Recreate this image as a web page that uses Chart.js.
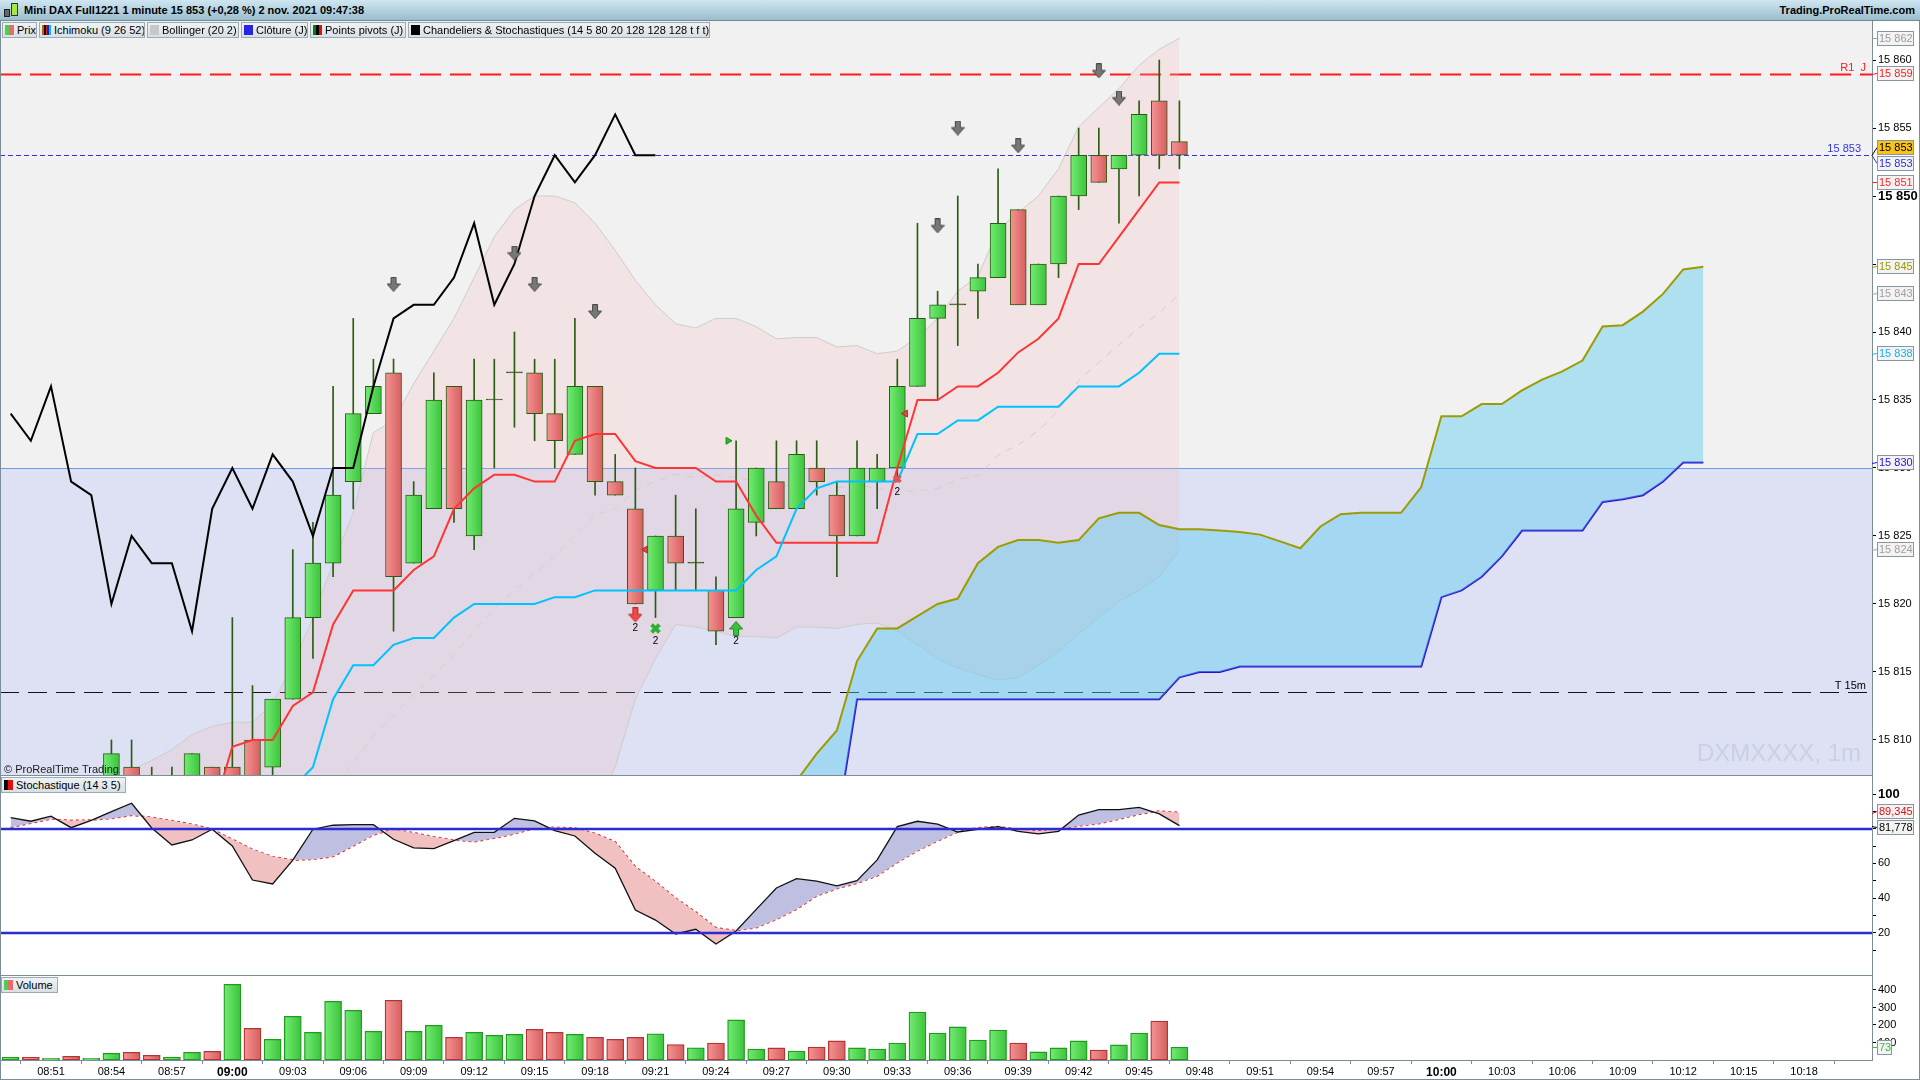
<!DOCTYPE html>
<html>
<head>
<meta charset="utf-8">
<title>Mini DAX Full1221 1 minute</title>
<script src="https://cdn.jsdelivr.net/npm/chart.js@4.4.1/dist/chart.umd.min.js"></script>
<style>
  html, body { margin: 0; padding: 0; background: #fff; }
  body { width: 1920px; height: 1080px; position: relative; overflow: hidden;
         font-family: "Liberation Sans", Arial, sans-serif; color: #000; }
  #title { position: absolute; left: 0; top: 0; width: 1920px; height: 20px;
           border-bottom: 1px solid #6f8997; background: linear-gradient(#cfe6f1, #9bbdcd); }
  #title .name { position: absolute; left: 24px; top: 4px; font-size: 11px; font-weight: bold; }
  #title .site { position: absolute; right: 5px; top: 4px; font-size: 11px; font-weight: bold; }
  #title .i1 { position: absolute; left: 4px; top: 9px; width: 4px; height: 6px; background: #666; border: 1px solid #222; }
  #title .i2 { position: absolute; left: 11px; top: 3px; width: 5px; height: 11px; background: #a6e83c; border: 1px solid #333; }
  canvas { position: absolute; left: 0; }
  .tag { position: absolute; height: 16px; box-sizing: border-box; border: 1px solid #9aabb6;
         background: linear-gradient(#eef2f4, #d8e0e5); font-size: 11px; line-height: 14px;
         padding: 0 2px 0 2px; white-space: nowrap; overflow: hidden; }
  .sw { display: inline-block; width: 9px; height: 10px; vertical-align: -1px; margin-right: 3px; }
  #frame { position: absolute; left: 0; top: 21px; width: 1920px; height: 1059px; box-sizing: border-box;
           border-left: 1px solid #7b8d99; border-right: 1px solid #7b8d99; border-bottom: 1px solid #7b8d99;
           pointer-events: none; }
</style>
</head>
<body>
<div id="title">
  <span class="i1"></span><span class="i2"></span>
  <span class="name">Mini DAX Full1221 1 minute 15 853 (+0,28 %) 2 nov. 2021 09:47:38</span>
  <span class="site">Trading.ProRealTime.com</span>
</div>

<canvas id="cMain" width="1920" height="755" style="top:21px"></canvas>
<canvas id="cStoch" width="1920" height="200" style="top:776px"></canvas>
<canvas id="cVol" width="1920" height="104" style="top:976px"></canvas>

<div class="tag" style="left:2px;top:22px;width:35px"><span class="sw" style="background:linear-gradient(90deg,#4cd04c 50%,#e86a6a 50%)"></span>Prix</div>
<div class="tag" style="left:39px;top:22px;width:106px"><span class="sw" style="background:linear-gradient(90deg,#b36b00 0 20%,#000 20% 40%,#e02020 40% 60%,#1a1ad0 60% 80%,#00c0ff 80%)"></span>Ichimoku (9 26 52)</div>
<div class="tag" style="left:147px;top:22px;width:92px"><span class="sw" style="background:#c8c8c8"></span>Bollinger (20 2)</div>
<div class="tag" style="left:241px;top:22px;width:67px"><span class="sw" style="background:#2626e0"></span>Clôture (J)</div>
<div class="tag" style="left:310px;top:22px;width:96px"><span class="sw" style="background:linear-gradient(90deg,#0a7a0a 0 33%,#000 33% 66%,#e01010 66%)"></span>Points pivots (J)</div>
<div class="tag" style="left:408px;top:22px;width:302px"><span class="sw" style="background:#000"></span>Chandeliers &amp; Stochastiques (14 5 80 20 128 128 128 t f t)</div>
<div class="tag" style="left:1px;top:777px;width:125px"><span class="sw" style="background:linear-gradient(90deg,#000 50%,#e01010 50%)"></span>Stochastique (14 3 5)</div>
<div class="tag" style="left:1px;top:977px;width:57px"><span class="sw" style="background:linear-gradient(90deg,#4cd04c 50%,#e86a6a 50%)"></span>Volume</div>
<div id="frame"></div>

<script>
// ---- values ----
const times = ['08:49','08:50','08:51','08:52','08:53','08:54','08:55','08:56','08:57','08:58','08:59',
  '09:00','09:01','09:02','09:03','09:04','09:05','09:06','09:07','09:08','09:09',
  '09:10','09:11','09:12','09:13','09:14','09:15','09:16','09:17','09:18','09:19',
  '09:20','09:21','09:22','09:23','09:24','09:25','09:26','09:27','09:28','09:29',
  '09:30','09:31','09:32','09:33','09:34','09:35','09:36','09:37','09:38','09:39',
  '09:40','09:41','09:42','09:43','09:44','09:45','09:46','09:47'];

const openP = [15803,15804,15803,15804,15802,15804,15808,15806,15805,15805,15808,
  15808,15810,15808,15813,15819,15823,15829,15834,15837,15823,
  15827,15836,15825,15835,15837,15837,15834,15831,15836,15829,
  15827,15821,15825,15823,15821,15819,15826,15829,15827,15830,
  15828,15825,15829,15830,15836,15841,15842,15843,15844,15849,
  15842,15845,15850,15853,15852,15853,15857,15854];
const highP = [15805,15805,15805,15805,15804,15810,15810,15808,15808,15809,15808,
  15819,15814,15813,15824,15826,15836,15841,15838,15838,15829,
  15837,15836,15838,15838,15840,15838,15838,15841,15836,15831,
  15830,15825,15828,15827,15822,15832,15830,15832,15832,15832,
  15829,15832,15831,15838,15848,15843,15850,15845,15852,15849,
  15845,15850,15855,15855,15853,15857,15860,15857];
const lowP = [15801,15802,15802,15801,15801,15803,15804,15803,15804,15804,15805,
  15803,15804,15806,15813,15816,15822,15827,15834,15818,15823,
  15827,15826,15824,15830,15833,15832,15830,15831,15828,15828,
  15820,15819,15821,15821,15817,15819,15825,15827,15827,15828,
  15822,15825,15827,15829,15836,15835,15839,15841,15844,15842,
  15842,15844,15849,15851,15848,15850,15852,15852];
const closeP = [15804,15803,15804,15802,15803,15809,15805,15804,15806,15809,15806,
  15806,15805,15813,15819,15823,15828,15834,15836,15822,15828,
  15835,15827,15835,15835,15837,15834,15832,15836,15829,15828,
  15820,15825,15823,15823,15818,15827,15830,15827,15831,15829,
  15825,15830,15830,15836,15841,15842,15842,15844,15848,15842,
  15845,15850,15853,15851,15853,15856,15853,15853];

const volume = [15,15,10,21,10,38,44,27,15,44,50,
  432,181,118,250,158,335,284,164,341,164,
  198,130,158,141,147,175,158,147,130,118,
  130,150,88,70,97,229,63,69,51,74,
  109,69,63,97,274,154,189,114,171,97,
  46,69,109,57,86,154,223,73];

const tenkan = [15803,15803,15803,15803.5,15803.5,15804,15804,15804,15804,15804,15804.5,
  15809.5,15810,15810,15812.5,15813.5,15818.5,15821,15821,15821,15822.5,
  15823.5,15827,15828.5,15829.5,15829.5,15829,15829,15832,15832.5,15832.5,
  15830.5,15830,15830,15830,15829,15829,15826.5,15824.5,15824.5,15824.5,
  15824.5,15824.5,15824.5,15830,15835,15835,15836,15836,15837,15838.5,
  15839.5,15841,15845,15845,15847,15849,15851,15851];
const kijun = [15803,15803,15803,15803,15803,15803,15803,15803,15803.5,15803.5,15804,
  15804,15804.5,15805,15806.5,15808,15813,15815.5,15815.5,15817,15817.5,
  15817.5,15819,15820,15820,15820,15820,15820.5,15820.5,15821,15821,
  15821,15821,15821,15821,15821,15821,15822.5,15823.5,15827,15828.5,
  15829,15829,15829,15829,15832.5,15832.5,15833.5,15833.5,15834.5,15834.5,
  15834.5,15834.5,15836,15836,15836,15837,15838.4,15838.4];

// Senkou spans are projected 26 bars ahead, so they run to index 84
const spanA = Array(36).fill(null).concat([15800,15802,15804.5,15807,15809,15810.7,15815.8,15818.2,15818.2,15819.1,
  15820,15820.4,15823,15824.2,15824.7,15824.7,15824.5,15824.7,15826.3,15826.7,
  15826.7,15825.8,15825.5,15825.5,15825.4,15825.3,15825.1,15824.6,15824.1,15825.7,
  15826.6,15826.7,15826.7,15826.7,15828.6,15833.8,15833.8,15834.7,15834.7,15835.7,
  15836.5,15837.1,15837.9,15840.4,15840.5,15841.5,15842.8,15844.6,15844.8]);
const spanB = Array(36).fill(null).concat([15798,15798,15799,15800,15801,15803.7,15813,15813,15813,15813,
  15813,15813,15813,15813,15813,15813,15813,15813,15813,15813,
  15813,15813,15814.6,15815,15815,15815.4,15815.4,15815.4,15815.4,15815.4,
  15815.4,15815.4,15815.4,15815.4,15815.4,15820.5,15821,15822,15823.5,15825.4,
  15825.4,15825.4,15825.4,15827.5,15827.7,15828,15829,15830.4,15830.4]);

const bbUpper = [15800,15801,15802,15803,15804,15806,15807.8,15808.5,15809.3,15810.4,15811,
  15811.3,15811.3,15812.7,15815.5,15819,15823,15826.7,15832.6,15833.5,15836.2,
  15838.6,15841,15844,15847,15849,15850,15850,15849.5,15848,15846,
  15843.8,15842,15840.6,15840.3,15841,15841,15840.4,15839.5,15839.6,15839.6,
  15838.9,15839,15838.4,15838.6,15839.6,15841,15843,15844.1,15847.5,15848.8,
  15850,15852,15855.1,15856.5,15857.9,15859.6,15860.8,15861.6];
const bbLower = [15790,15790,15790,15790,15790,15790,15790,15790,15790,15790,15790,
  15790,15790,15790,15790,15790,15790,15789.9,15788,15790.1,15790.6,
  15790.8,15791.6,15792,15792.4,15793,15794.6,15797,15800.5,15805,15808,
  15813,15816,15818.5,15818.3,15818,15817.6,15817.6,15817.5,15818.3,15818.3,
  15818.2,15818.5,15818.6,15818,15817,15816,15815.3,15814.8,15814.4,15814.6,
  15815.5,15816.5,15817.8,15819,15820.2,15821,15822,15824];

const stochK = [86.4,84.3,87.2,80.6,84.8,89.8,94.7,80.4,70.6,73.5,79.7,
  70.0,50.4,48.1,61.9,79.7,82.0,82.3,82.3,73.9,68.9,
  68.5,73.1,77.9,77.9,86.0,84.5,78.9,75.8,65.8,57.2,
  33.1,27.3,19.3,22.0,13.5,21.0,33.5,45.8,51.2,49.8,
  47.0,50.0,62.0,81.2,84.3,82.7,78.1,79.6,81.2,78.5,
  77.0,78.5,87.9,91.0,91.0,92.3,88.5,81.778];
const stochD = [80.8,83.1,85.6,84.8,85.0,85.8,87.7,86.6,84.7,82.6,79.7,
  73.9,68.1,63.9,61.9,62.3,63.9,70.0,76.4,79.7,77.7,
  75.4,73.5,72.5,74.5,77.0,80.2,80.8,80.4,77.3,72.5,
  58.1,49.5,40.0,32.0,22.9,21.2,22.9,27.7,33.5,41.2,
  45.4,48.5,52.7,60.4,67.2,72.9,78.1,80.6,81.2,79.7,
  78.7,79.7,81.6,82.9,85.4,88.3,90.2,89.345];

const xTickLabels = ['08:51','08:54','08:57','09:00','09:03','09:06','09:09','09:12','09:15','09:18',
  '09:21','09:24','09:27','09:30','09:33','09:36','09:39','09:42','09:45','09:48',
  '09:51','09:54','09:57','10:00','10:03','10:06','10:09','10:12','10:15','10:18'];
const priceTicks = [15810,15815,15820,15825,15830,15835,15840,15845,15850,15855,15860];
const stochTicks = [10,20,30,40,50,60,70,80,90,100];
const volTicks = [100,200,300,400];

const r1Level = 15859;
const prevClose = 15830;
const t15Level = 15813.5;
const stochBands = [80, 20];

// signal markers (bar index, price)
const warnIdx = [19,25,26,29,46,47,50,54,55];
const warnPrice = [15843.5,15845.8,15843.5,15841.5,15847.8,15855,15853.7,15859.2,15857.2];
const sellIdx = [31], sellPrice = [15819.2];
const buyIdx = [36], buyPrice = [15818.2];
const gCrossIdx = [32], gCrossPrice = [15818.2];
const rCrossIdx = [44], rCrossPrice = [15829.2];
const gTriIdx = [35.6], gTriPrice = [15832];
const rTriIdx = [31.5, 44.4], rTriPrice = [15824, 15834];

// ---- helpers ----
Chart.defaults.font.family = '"Liberation Sans", Arial, sans-serif';
Chart.defaults.font.size = 11;
Chart.defaults.color = '#000';

const X_MIN = -0.53, X_MAX = 92.37;
const AXIS_W = 48;
const FRAME = '#7b8d99';
const EDGE = '#2b5c12';
const last = closeP.length - 1;
const bbMid = bbUpper.map((u, i) => (u + bbLower[i]) / 2);
const volUp = closeP.map((c, i) => i === 0 || c >= closeP[i - 1]);

const pts = arr => arr.map((v, i) => ({x: i, y: v}));
const pairs = (xs, ys) => xs.map((x, k) => ({x, y: ys[k]}));
const toMin = s => { const [h, m] = s.split(':'); return +h * 60 + +m; };
const xTickPos = xTickLabels.map(s => toMin(s) - toMin(times[0]));

function fmtPrice(v) {
  const r = Math.round(v);
  return Math.floor(r / 1000) + ' ' + String(r % 1000).padStart(3, '0');
}

function shade(ctx, light, dark, half) {
  const xs = ctx.chart.scales.x;
  if (!xs || !ctx.raw) return dark;
  const px = xs.getPixelForValue(ctx.raw.x);
  if (!isFinite(px)) return dark;
  const g = ctx.chart.ctx.createLinearGradient(px - half, 0, px + half, 0);
  g.addColorStop(0, light);
  g.addColorStop(1, dark);
  return g;
}

function blockArrow(fill, stroke, up) {
  const c = document.createElement('canvas');
  c.width = 14; c.height = 15;
  const g = c.getContext('2d');
  const p = [[4.5,0.5],[9.5,0.5],[9.5,7],[13.5,7],[7,14.5],[0.5,7],[4.5,7]];
  g.beginPath();
  p.forEach(([px, py], k) => { const yy = up ? 15 - py : py; k ? g.lineTo(px, yy) : g.moveTo(px, yy); });
  g.closePath();
  g.fillStyle = fill; g.fill();
  g.strokeStyle = stroke; g.lineWidth = 1; g.stroke();
  return c;
}

function rightAxis(min, max, ticks, cb, font) {
  return {
    position: 'right', min, max,
    afterFit: s => { s.width = AXIS_W; s.paddingTop = 0; s.paddingBottom = 0; },
    afterBuildTicks: s => { s.ticks = ticks.map(v => ({value: v})); },
    grid: {drawOnChartArea: false, tickLength: 4, color: '#000'},
    border: {color: FRAME},
    ticks: {autoSkip: false, padding: 2, color: '#000', callback: cb, font}
  };
}

function drawTags(chart, tags) {
  const {ctx, chartArea: a} = chart;
  const y = chart.scales.y;
  const H = 15;
  const items = tags.map(t => ({...t, y0: y.getPixelForValue(t.v), y: y.getPixelForValue(t.v)}));
  for (let it = 0; it < 40; it++) {
    items.sort((p, q) => p.y - q.y);
    for (let k = 1; k < items.length; k++) {
      const ov = items[k - 1].y + H + 1 - items[k].y;
      if (ov > 0) { items[k - 1].y -= ov / 2; items[k].y += ov / 2; }
    }
  }
  ctx.save();
  ctx.font = '11px "Liberation Sans", Arial, sans-serif';
  ctx.textBaseline = 'middle';
  items.forEach(t => {
    const x0 = a.right + 5;
    const w = t.w || 37;
    const top = Math.round(t.y - H / 2);
    ctx.strokeStyle = t.fg; ctx.lineWidth = 1;
    ctx.beginPath();
    ctx.moveTo(a.right, Math.round(t.y0) + 0.5);
    ctx.lineTo(x0, top + H / 2);
    ctx.stroke();
    ctx.fillStyle = t.bg || '#f3f3f3';
    ctx.fillRect(x0, top, w, H);
    ctx.strokeStyle = '#8797a2';
    ctx.strokeRect(x0 + 0.5, top + 0.5, w - 1, H - 1);
    ctx.fillStyle = t.fg;
    ctx.fillText(t.text, x0 + 2, top + H / 2 + 0.5);
  });
  ctx.restore();
}

function bottomRule(chart) {
  const {ctx, chartArea: a} = chart;
  ctx.save();
  ctx.strokeStyle = FRAME; ctx.lineWidth = 1;
  ctx.beginPath(); ctx.moveTo(0, a.bottom - 0.5); ctx.lineTo(a.right, a.bottom - 0.5); ctx.stroke();
  ctx.restore();
}

const baseOptions = () => ({
  responsive: false, animation: false, devicePixelRatio: 1, events: [],
  layout: {padding: 0, autoPadding: false},
  plugins: {legend: {display: false}, tooltip: {enabled: false}}
});

// ---- main price panel ----
const mainTags = [
  {v: bbUpper[last], fg: '#9a9a9a'},
  {v: r1Level, fg: '#ff1e1e'},
  {v: closeP[last], fg: '#000', bg: '#f7c31b'},
  {v: closeP[last], fg: '#2d2de6'},
  {v: tenkan[last], fg: '#ff2a2a'},
  {v: spanA[spanA.length - 1], fg: '#9a9a00'},
  {v: bbMid[last], fg: '#a0a0a0'},
  {v: kijun[last], fg: '#12b4f0'},
  {v: spanB[spanB.length - 1], fg: '#2a12d2'},
  {v: bbLower[last], fg: '#a0a0a0'}
].map(t => ({...t, text: fmtPrice(t.v)}));

const mainDeco = {
  id: 'mainDeco',
  beforeDraw(chart) {
    const {ctx, chartArea: a} = chart;
    const yc = Math.round(chart.scales.y.getPixelForValue(prevClose));
    ctx.save();
    ctx.fillStyle = '#f1f1f1';
    ctx.fillRect(a.left, a.top, a.width, yc - a.top);
    ctx.fillStyle = '#dde1f3';
    ctx.fillRect(a.left, yc, a.width, a.bottom - yc);
    ctx.restore();
  },
  beforeDatasetsDraw(chart) {
    const {ctx, chartArea: a} = chart;
    const y = chart.scales.y;
    ctx.save();
    ctx.font = '24px "Liberation Sans", Arial, sans-serif';
    ctx.fillStyle = '#c9d0e3';
    ctx.textAlign = 'right';
    ctx.fillText('DXMXXXX, 1m', a.right - 11, a.bottom - 15);

    const hline = (v, color, w, dash) => {
      const py = Math.round(y.getPixelForValue(v)) + 0.5;
      ctx.beginPath(); ctx.setLineDash(dash);
      ctx.strokeStyle = color; ctx.lineWidth = w;
      ctx.moveTo(a.left, py); ctx.lineTo(a.right, py); ctx.stroke();
      return py;
    };
    ctx.font = '11px "Liberation Sans", Arial, sans-serif';
    let py = hline(r1Level, '#ff1a1a', 2.2, [21, 9]);
    ctx.fillStyle = '#ff1a1a'; ctx.fillText('R1  J', a.right - 6, py - 4);
    py = hline(closeP[last], '#3434e4', 1, [5, 3]);
    ctx.fillStyle = '#3434e4'; ctx.fillText(fmtPrice(closeP[last]), a.right - 11, py - 4);
    hline(prevClose, '#6b9bf0', 1, []);
    py = hline(t15Level, '#111', 1, [19, 9]);
    ctx.fillStyle = '#000'; ctx.fillText('T 15m', a.right - 6, py - 4);
    ctx.restore();
  },
  afterDatasetsDraw(chart) {
    const {ctx} = chart;
    const x = chart.scales.x, y = chart.scales.y;
    ctx.save();
    ctx.font = '10px "Liberation Sans", Arial, sans-serif';
    ctx.fillStyle = '#000';
    ctx.textAlign = 'center';
    ctx.textBaseline = 'middle';
    [[sellIdx, sellPrice], [buyIdx, buyPrice], [gCrossIdx, gCrossPrice], [rCrossIdx, rCrossPrice]].forEach(([xs, ys]) => {
      xs.forEach((i, k) => ctx.fillText('2', x.getPixelForValue(i), y.getPixelForValue(ys[k]) + 13));
    });
    ctx.restore();
  },
  afterDraw(chart) {
    const {ctx, chartArea: a} = chart;
    ctx.save();
    ctx.font = '11px "Liberation Sans", Arial, sans-serif';
    ctx.fillStyle = '#1a1a1a';
    ctx.fillText('\u00A9 ProRealTime Trading', 4, a.bottom - 3);
    ctx.restore();
    bottomRule(chart);
    drawTags(chart, mainTags);
  }
};

const lineDs = (data, color, width, extra) => Object.assign({
  type: 'line', data, borderColor: color, borderWidth: width, pointRadius: 0, fill: false, tension: 0
}, extra || {});

const markDs = (data, extra) => Object.assign({
  type: 'line', data, showLine: false, pointRadius: 6, order: 1
}, extra);

new Chart(document.getElementById('cMain'), {
  type: 'bar',
  data: {
    datasets: [
      lineDs(pts(bbUpper), '#cdcdcd', 1, {order: 10,
        fill: {target: 1, above: 'rgba(248,180,180,0.22)', below: 'rgba(248,180,180,0.22)'}}),
      lineDs(pts(bbLower), '#cdcdcd', 1, {order: 10}),
      lineDs(pts(bbMid), '#d0d0d0', 1, {order: 10, borderDash: [7, 7]}),
      lineDs(pts(spanA), '#9c9c00', 2, {order: 9,
        fill: {target: 4, above: 'rgba(95,205,240,0.45)', below: 'rgba(95,205,240,0.45)'}}),
      lineDs(pts(spanB), '#2a0fd0', 2, {order: 9}),
      {type: 'bar', data: lowP.map((l, i) => ({x: i, y: [l, highP[i]]})), barThickness: 1,
        backgroundColor: EDGE, borderWidth: 0, grouped: false, order: 6},
      {type: 'bar', data: openP.map((o, i) => ({x: i, y: [Math.min(o, closeP[i]), Math.max(o, closeP[i])]})),
        barThickness: 16, minBarLength: 1, grouped: false, order: 5,
        borderColor: EDGE, borderWidth: 1, borderSkipped: false,
        backgroundColor: ctx => {
          const i = ctx.dataIndex;
          if (closeP[i] > openP[i]) return shade(ctx, '#72ec72', '#3cc33c', 8);
          if (closeP[i] < openP[i]) return shade(ctx, '#f69393', '#d55f5f', 8);
          return EDGE;
        }},
      lineDs(closeP.slice(26).map((v, k) => ({x: k, y: v})), '#000', 2, {order: 4}),
      lineDs(pts(kijun), '#00c2ff', 2, {order: 3}),
      lineDs(pts(tenkan), '#ff3535', 2, {order: 3}),
      markDs(pairs(warnIdx, warnPrice), {pointStyle: blockArrow('#777', '#474747', false)}),
      markDs(pairs(sellIdx, sellPrice), {pointStyle: blockArrow('#ef4a4a', '#c22222', false)}),
      markDs(pairs(buyIdx, buyPrice), {pointStyle: blockArrow('#3dc13d', '#1c8a1c', true)}),
      markDs(pairs(gCrossIdx, gCrossPrice), {pointStyle: 'crossRot', pointRadius: 5.5,
        pointBorderWidth: 4, pointBorderColor: '#30b030'}),
      markDs(pairs(rCrossIdx, rCrossPrice), {pointStyle: 'crossRot', pointRadius: 4.5,
        pointBorderWidth: 3.5, pointBorderColor: '#e05454'}),
      markDs(pairs(gTriIdx, gTriPrice), {pointStyle: 'triangle', pointRotation: 90, pointRadius: 4,
        pointBackgroundColor: '#2db82d', pointBorderColor: '#1d8a1d', pointBorderWidth: 1}),
      markDs(pairs(rTriIdx, rTriPrice), {pointStyle: 'triangle', pointRotation: -90, pointRadius: 4,
        pointBackgroundColor: '#e24848', pointBorderColor: '#b02828', pointBorderWidth: 1})
    ]
  },
  options: Object.assign(baseOptions(), {
    scales: {
      x: {type: 'linear', min: X_MIN, max: X_MAX, display: false, offset: false},
      y: rightAxis(15807.35, 15862.87, priceTicks, v => fmtPrice(v),
        ctx => (ctx.tick && ctx.tick.value % 50 === 0) ? {size: 13, weight: 'bold'} : {size: 11})
    }
  }),
  plugins: [mainDeco]
});

// ---- stochastic panel ----
const stochTags = [
  {v: stochD[last], fg: '#e01010'},
  {v: stochK[last], fg: '#000'}
].map(t => ({...t, text: t.v.toFixed(3).replace('.', ',')}));

const stochDeco = {
  id: 'stochDeco',
  afterDatasetsDraw(chart) {
    const {ctx, chartArea: a} = chart;
    ctx.save();
    ctx.strokeStyle = '#2b2bd6'; ctx.lineWidth = 2.5;
    stochBands.forEach(v => {
      const py = Math.round(chart.scales.y.getPixelForValue(v));
      ctx.beginPath(); ctx.moveTo(a.left, py); ctx.lineTo(a.right, py); ctx.stroke();
    });
    ctx.restore();
  },
  afterDraw(chart) {
    bottomRule(chart);
    drawTags(chart, stochTags);
  }
};

new Chart(document.getElementById('cStoch'), {
  type: 'line',
  data: {
    datasets: [
      lineDs(pts(stochK), '#111', 1.3, {fill: {target: 1, above: '#bfc0e1', below: '#f1c1c1'}}),
      lineDs(pts(stochD), '#e01a1a', 1.5, {borderDash: [3, 3]})
    ]
  },
  options: Object.assign(baseOptions(), {
    scales: {
      x: {type: 'linear', min: X_MIN, max: X_MAX, display: false, offset: false},
      y: rightAxis(-4.96, 110.4, stochTicks, v => (v % 20 === 0 ? String(v) : ''),
        ctx => (ctx.tick && ctx.tick.value === 100) ? {size: 13, weight: 'bold'} : {size: 11})
    }
  }),
  plugins: [stochDeco]
});

// ---- volume panel ----
const volTags = [{v: volume[last], fg: '#3cbc3c', text: String(volume[last]), w: 15}];

new Chart(document.getElementById('cVol'), {
  type: 'bar',
  data: {
    datasets: [{
      data: pts(volume), barThickness: 17, grouped: false,
      borderWidth: 1.3, borderSkipped: false,
      borderColor: ctx => volUp[ctx.dataIndex] ? '#1f9b1f' : '#b23434',
      backgroundColor: ctx => volUp[ctx.dataIndex]
        ? shade(ctx, '#72ec72', '#3cc33c', 8.5)
        : shade(ctx, '#f69393', '#d55f5f', 8.5)
    }]
  },
  options: Object.assign(baseOptions(), {
    scales: {
      x: {
        type: 'linear', min: X_MIN, max: X_MAX, offset: false, position: 'bottom',
        afterFit: s => { s.height = 20; s.paddingLeft = 0; s.paddingRight = 0; },
        afterBuildTicks: s => { s.ticks = xTickPos.map(v => ({value: v})); },
        grid: {drawOnChartArea: false, tickLength: 4, color: FRAME},
        border: {color: FRAME},
        ticks: {
          autoSkip: false, maxRotation: 0, padding: 1, color: '#000',
          callback: (v, k) => xTickLabels[k],
          font: ctx => /:00$/.test(xTickLabels[ctx.index] || '') ? {size: 12, weight: 'bold'} : {size: 11}
        }
      },
      y: rightAxis(0, 480, volTicks, v => String(v), {size: 11})
    }
  }),
  plugins: [{id: 'volDeco', afterDraw(chart) { drawTags(chart, volTags); }}]
});
</script>
</body>
</html>
